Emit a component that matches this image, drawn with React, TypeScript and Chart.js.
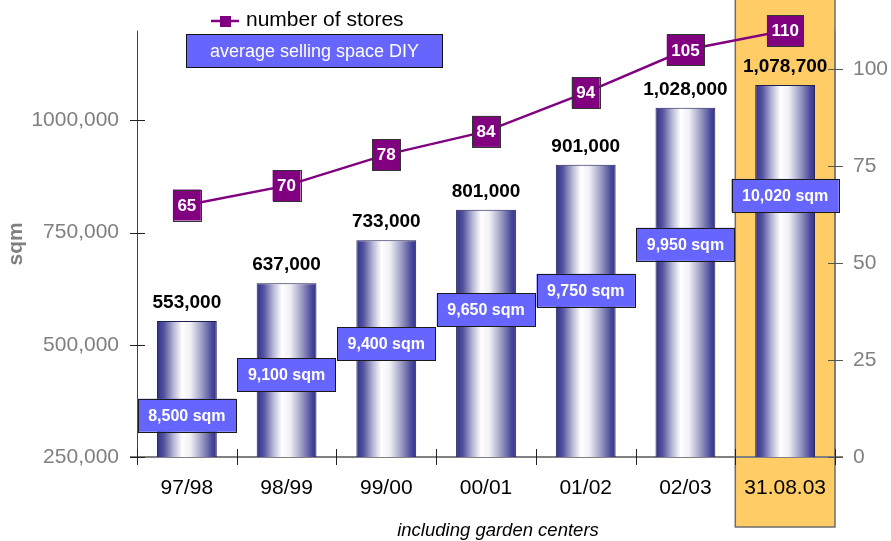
import React, { useEffect, useRef } from 'react';
import { Chart, registerables } from 'chart.js';

Chart.register(...registerables);

const FONT = 'Arial, "Liberation Sans", Helvetica, sans-serif';

// ---- data ----
const periods = ['97/98', '98/99', '99/00', '00/01', '01/02', '02/03', '31.08.03'];
const totalSellingSpace = [553000, 637000, 733000, 801000, 901000, 1028000, 1078700];
const numberOfStores = [65, 70, 78, 84, 94, 105, 110];
const avgSellingSpace = [8500, 9100, 9400, 9650, 9750, 9950, 10020];
// level (on the sqm axis) at which each average-space label sits
const avgLabelLevel = [343000, 432700, 502400, 577700, 621300, 723900, 832800];
const leftTickValues = [250000, 500000, 750000, 1000000];
const leftTickLabels = ['250,000', '500,000', '750,000', '1000,000'];
const rightTickValues = [0, 25, 50, 75, 100];
const rightTickLabels = ['0', '25', '50', '75', '100'];
const highlightIndex = 6;
const legendLine = 'number of stores';
const legendBox = 'average selling space DIY';
const footnote = 'including garden centers';

const fmt = (n: number) => n.toLocaleString('en-US');

const decorPlugin = {
  id: 'decor',
  beforeDraw(chart: any) {
    const { ctx, scales, chartArea } = chart;
    const xs = scales.x;
    const step = (chartArea.right - chartArea.left) / periods.length;
    const cx = xs.getPixelForValue(highlightIndex);
    ctx.save();
    ctx.fillStyle = '#FFFFFF';
    ctx.fillRect(0, 0, chart.width, chart.height);
    ctx.fillStyle = '#FFCC66';
    ctx.fillRect(cx - step / 2, 0, step, chart.height - 14);
    ctx.strokeStyle = '#6e6e6e';
    ctx.lineWidth = 1.5;
    ctx.strokeRect(cx - step / 2, -2, step, chart.height - 12);
    ctx.restore();
  },
  beforeDatasetsDraw(chart: any) {
    const { ctx, chartArea } = chart;
    const { left, right, top, bottom } = chartArea;
    ctx.save();
    // left axis
    ctx.strokeStyle = '#444444';
    ctx.lineWidth = 1;
    ctx.beginPath();
    ctx.moveTo(left + 0.5, top);
    ctx.lineTo(left + 0.5, bottom);
    ctx.stroke();
    // right axis
    ctx.strokeStyle = '#6e6e6e';
    ctx.beginPath();
    ctx.moveTo(right, top);
    ctx.lineTo(right, bottom);
    ctx.stroke();
    // x axis
    ctx.strokeStyle = '#808080';
    ctx.lineWidth = 2;
    ctx.beginPath();
    ctx.moveTo(left - 7, bottom);
    ctx.lineTo(right + 8, bottom);
    ctx.stroke();
    ctx.restore();
  },
  afterDatasetsDraw(chart: any) {
    const { ctx, chartArea, scales } = chart;
    const { left, right, bottom } = chartArea;
    const ys = scales.y;
    const y2 = scales.y2;
    const xs = scales.x;
    const step = (right - left) / periods.length;
    ctx.save();
    // tick marks
    ctx.lineWidth = 1;
    ctx.strokeStyle = '#222222';
    leftTickValues.forEach((v) => {
      const y = Math.round(ys.getPixelForValue(v)) + 0.5;
      ctx.beginPath();
      ctx.moveTo(left - 7, y);
      ctx.lineTo(left + 8, y);
      ctx.stroke();
    });
    ctx.strokeStyle = '#555555';
    rightTickValues.forEach((v) => {
      const y = Math.round(y2.getPixelForValue(v)) + 0.5;
      ctx.beginPath();
      ctx.moveTo(right - 7, y);
      ctx.lineTo(right + 8, y);
      ctx.stroke();
    });
    ctx.strokeStyle = '#222222';
    for (let i = 0; i <= periods.length; i++) {
      const x = Math.round(left + i * step) + 0.5;
      ctx.beginPath();
      ctx.moveTo(x, bottom - 8);
      ctx.lineTo(x, bottom + 8);
      ctx.stroke();
    }

    // bar value labels
    const barMeta = chart.getDatasetMeta(1);
    ctx.fillStyle = '#000000';
    ctx.font = `bold 19px ${FONT}`;
    ctx.textAlign = 'center';
    ctx.textBaseline = 'alphabetic';
    barMeta.data.forEach((bar: any, i: number) => {
      ctx.fillText(fmt(totalSellingSpace[i]), bar.x, bar.y - 13);
    });

    // average selling space boxes
    ctx.font = `bold 16px ${FONT}`;
    avgSellingSpace.forEach((v, i) => {
      const text = `${fmt(v)} sqm`;
      const w = ctx.measureText(text).width + 21;
      const h = 33;
      const cx = xs.getPixelForValue(i);
      const cy = ys.getPixelForValue(avgLabelLevel[i]);
      ctx.fillStyle = '#6666FF';
      ctx.fillRect(cx - w / 2, cy - h / 2, w, h);
      ctx.strokeStyle = '#1a1a1a';
      ctx.lineWidth = 1;
      ctx.strokeRect(Math.round(cx - w / 2) + 0.5, Math.round(cy - h / 2) + 0.5, Math.round(w), h);
      ctx.fillStyle = '#FFFFFF';
      ctx.textBaseline = 'middle';
      ctx.fillText(text, cx, cy + 1);
    });

    // store count boxes
    const lineMeta = chart.getDatasetMeta(0);
    ctx.font = `bold 17px ${FONT}`;
    lineMeta.data.forEach((pt: any, i: number) => {
      const text = String(numberOfStores[i]);
      const w = ctx.measureText(text).width + 9;
      const h = 31;
      ctx.fillStyle = '#800080';
      ctx.fillRect(pt.x - w / 2, pt.y - h / 2, w, h);
      ctx.strokeStyle = '#333333';
      ctx.strokeRect(Math.round(pt.x - w / 2) + 0.5, Math.round(pt.y - h / 2) + 0.5, Math.round(w), h);
      ctx.fillStyle = '#FFFFFF';
      ctx.textBaseline = 'middle';
      ctx.fillText(text, pt.x, pt.y + 1);
    });

    // legend
    ctx.strokeStyle = '#800080';
    ctx.lineWidth = 2.5;
    ctx.beginPath();
    ctx.moveTo(211, 21);
    ctx.lineTo(239, 21);
    ctx.stroke();
    ctx.fillStyle = '#800080';
    ctx.fillRect(220, 16, 11, 11);
    ctx.fillStyle = '#000000';
    ctx.font = `21px ${FONT}`;
    ctx.textAlign = 'left';
    ctx.textBaseline = 'alphabetic';
    ctx.fillText(legendLine, 246, 26);

    ctx.fillStyle = '#6666FF';
    ctx.fillRect(186, 34, 257, 33);
    ctx.strokeStyle = '#111111';
    ctx.lineWidth = 1;
    ctx.strokeRect(186.5, 34.5, 256, 33);
    ctx.fillStyle = '#FFFFFF';
    ctx.font = `18px ${FONT}`;
    ctx.textAlign = 'center';
    ctx.fillText(legendBox, 314.5, 57);

    // footnote
    ctx.fillStyle = '#000000';
    ctx.font = `italic 18.5px ${FONT}`;
    ctx.fillText(footnote, 498, 536);
    ctx.restore();
  },
};

export default function App() {
  const ref = useRef<HTMLCanvasElement>(null);

  useEffect(() => {
    const canvas = ref.current;
    if (!canvas) return;
    Chart.defaults.font.family = FONT;

    const barGradient = (context: any) => {
      const chart = context.chart;
      const xs = chart.scales?.x;
      if (!xs || context.dataIndex === undefined) return '#333399';
      const cx = xs.getPixelForValue(context.dataIndex);
      const half = ((xs.right - xs.left) / periods.length) * 0.6 / 2;
      if (!isFinite(cx) || !isFinite(half) || half <= 0) return '#333399';
      const g = chart.ctx.createLinearGradient(cx - half, 0, cx + half, 0);
      g.addColorStop(0, '#30308c');
      g.addColorStop(0.12, '#54549f');
      g.addColorStop(0.28, '#b8b8d6');
      g.addColorStop(0.42, '#ffffff');
      g.addColorStop(0.56, '#f0f0f6');
      g.addColorStop(0.76, '#9898c2');
      g.addColorStop(0.92, '#4a4a9c');
      g.addColorStop(1, '#30308c');
      return g;
    };

    const chart = new Chart(canvas, {
      data: {
        labels: periods,
        datasets: [
          {
            type: 'line',
            label: legendLine,
            data: numberOfStores,
            yAxisID: 'y2',
            borderColor: '#800080',
            borderWidth: 2.5,
            pointRadius: 0,
            tension: 0,
            order: 0,
          },
          {
            type: 'bar',
            label: 'selling space',
            data: totalSellingSpace,
            yAxisID: 'y',
            backgroundColor: barGradient,
            borderColor: '#1e1e50',
            borderWidth: 1,
            barPercentage: 0.6,
            categoryPercentage: 1,
            order: 1,
          },
        ],
      } as any,
      options: {
        responsive: false,
        animation: false,
        devicePixelRatio: 1,
        layout: { padding: { top: 28, bottom: 0, left: 0, right: 0 } },
        plugins: { legend: { display: false }, tooltip: { enabled: false } },
        scales: {
          x: {
            type: 'category',
            offset: true,
            grid: { display: false, drawTicks: false },
            border: { display: false },
            ticks: {
              color: '#000000',
              font: { size: 21, family: FONT },
              padding: 19,
              maxRotation: 0,
              autoSkip: false,
            },
            afterFit: (s: any) => {
              s.height = 84;
            },
          },
          y: {
            type: 'linear',
            position: 'left',
            min: 250000,
            max: 1200000,
            grid: { display: false, drawTicks: false },
            border: { display: false },
            afterBuildTicks: (s: any) => {
              s.ticks = leftTickValues.map((v) => ({ value: v }));
            },
            ticks: {
              color: '#808080',
              font: { size: 21, family: FONT },
              padding: 18,
              callback: (v: any) => {
                const i = leftTickValues.indexOf(Number(v));
                return i >= 0 ? leftTickLabels[i] : '';
              },
            },
            title: {
              display: true,
              text: 'sqm',
              color: '#808080',
              font: { size: 21, weight: 'bold', family: FONT },
              padding: { top: 4, bottom: 0 },
            },
            afterFit: (s: any) => {
              s.width = 137;
            },
          },
          y2: {
            type: 'linear',
            position: 'right',
            min: 0,
            max: 110,
            grid: { display: false, drawTicks: false },
            border: { display: false },
            afterBuildTicks: (s: any) => {
              s.ticks = rightTickValues.map((v) => ({ value: v }));
            },
            ticks: {
              color: '#808080',
              font: { size: 21, family: FONT },
              padding: 18,
              callback: (v: any) => {
                const i = rightTickValues.indexOf(Number(v));
                return i >= 0 ? rightTickLabels[i] : '';
              },
            },
            afterFit: (s: any) => {
              s.width = 56;
            },
          },
        },
      } as any,
      plugins: [decorPlugin],
    });

    return () => chart.destroy();
  }, []);

  return (
    <div style={{ position: 'absolute', left: 0, top: 0, width: 891, height: 541, background: '#fff' }}>
      <canvas ref={ref} width={891} height={541} style={{ display: 'block', width: 891, height: 541 }} />
    </div>
  );
}
